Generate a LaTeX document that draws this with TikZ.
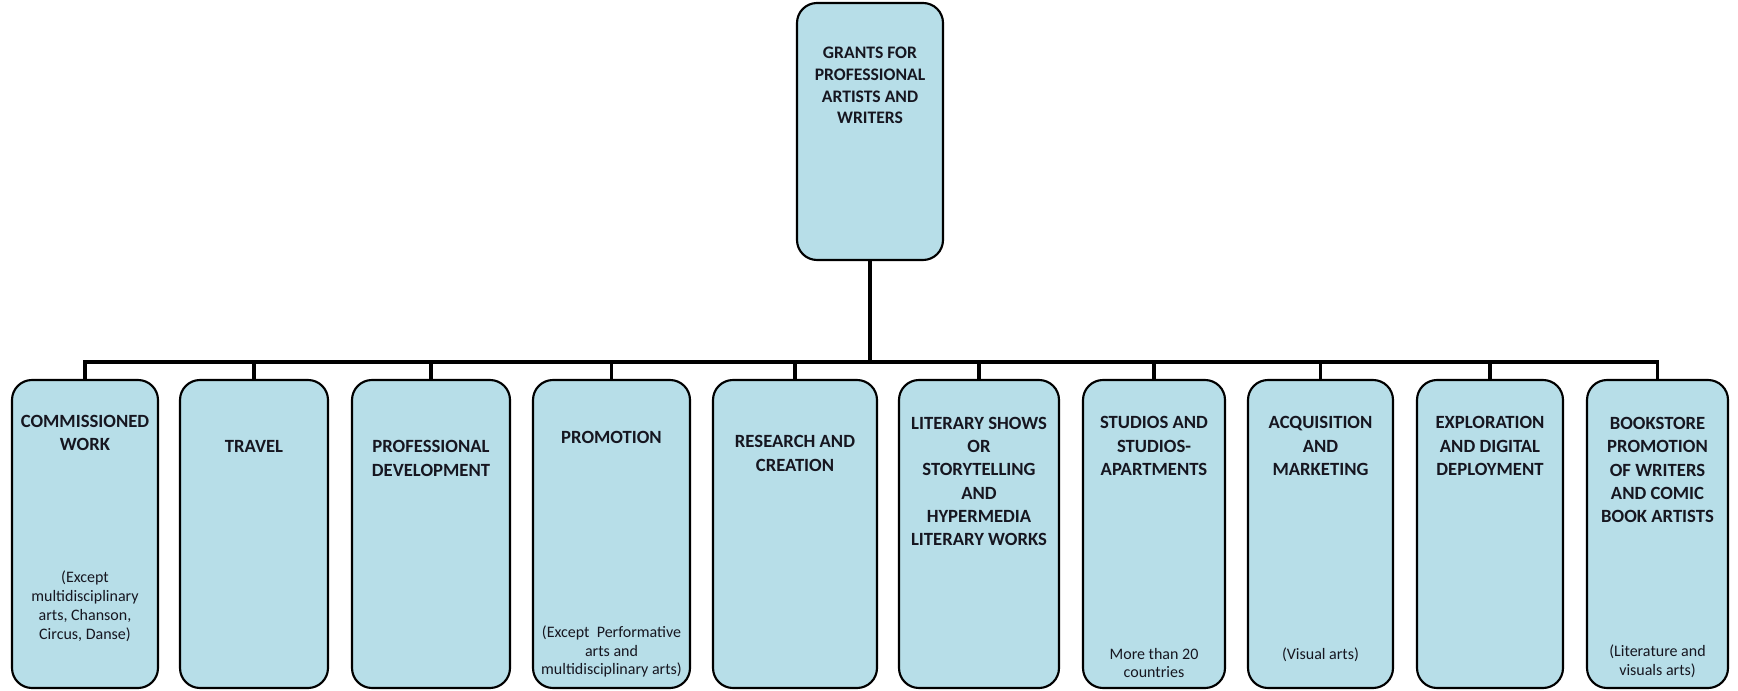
\documentclass[tikz,border=0pt]{standalone}
\usepackage{fontspec}
\setmainfont{Carlito}
\usetikzlibrary{positioning}

\definecolor{boxfill}{RGB}{183,222,232}
\definecolor{ink}{RGB}{22,22,32}

\tikzset{every picture/.style={line width=0.75pt}}
\tikzset{
  grantbox/.style={draw=black, line width=1.6pt, fill=boxfill, rounded corners=15pt, inner sep=0pt, minimum height=231pt},
  headbox/.style={grantbox, minimum width=109.5pt, minimum height=192.75pt},
  ttl/.style={inner sep=0.75pt, align=center, text=ink, font=\bfseries\fontsize{14}{17.4}\selectfont},
  headttl/.style={ttl, font=\bfseries\fontsize{13.2}{16.3}\selectfont},
  note/.style={inner sep=0.75pt, align=center, text=ink, font=\fontsize{12}{14.2}\selectfont},
  conn/.style={draw=black, line width=2.8pt}
}

\begin{document}
\begin{tikzpicture}[x=0.75pt,y=0.75pt,yscale=-1,xscale=1]
    \useasboundingbox (0,0) rectangle (1738,691);

    %Top box
    \node [headbox] (grants) at (870,131.5) {};
    \node [headttl] (grantsttl) at (870,85.5) {GRANTS FOR\\PROFESSIONAL\\ARTISTS AND\\WRITERS};

    %Boxes of the second row
    \node [grantbox, minimum width=109.5pt] (commiss) at (85,534) {};
    \node [grantbox, minimum width=111pt] (travel) at (254,534) {};
    \node [grantbox, minimum width=118.5pt] (profdev) at (431,534) {};
    \node [grantbox, minimum width=117.75pt] (promo) at (611.5,534) {};
    \node [grantbox, minimum width=123pt] (research) at (795,534) {};
    \node [grantbox, minimum width=120pt] (litshows) at (979,534) {};
    \node [grantbox, minimum width=106.5pt] (studios) at (1154,534) {};
    \node [grantbox, minimum width=108.75pt] (acquis) at (1320.5,534) {};
    \node [grantbox, minimum width=109.5pt] (explor) at (1490,534) {};
    \node [grantbox, minimum width=105.75pt] (bookst) at (1657.5,534) {};

    %Connectors
    \coordinate (bus) at (870,362);
    \draw [conn] (grants.south) -- (bus);
    \draw [conn] (commiss.north) |- (bus) -| (bookst.north);
    \foreach \b in {travel,profdev,promo,research,litshows,studios,acquis,explor}
      \draw [conn] (\b.north) -- (\b.north |- bus);

    % Text Node
    \node [ttl] (commissttl) at (85,433) {COMMISSIONED\\WORK};
    \node [note] (commissnote) at (85,606.5) {(Except\\multidisciplinary\\arts, Chanson,\\Circus, Danse)};
    % Text Node
    \node [ttl] (travelttl) at (254,446) {TRAVEL};
    % Text Node
    \node [ttl] (profdevttl) at (431,458.5) {PROFESSIONAL\\DEVELOPMENT};
    % Text Node
    \node [ttl] (promottl) at (611.5,437) {PROMOTION};
    \node [note] (promonote) at (611.5,651.5) {(Except~ Performative\\arts and\\multidisciplinary arts)};
    % Text Node
    \node [ttl] (researchttl) at (795,453.5) {RESEARCH AND\\CREATION};
    % Text Node
    \node [ttl] (litshowsttl) at (979,481.5) {LITERARY SHOWS\\OR\\STORYTELLING\\AND\\HYPERMEDIA\\LITERARY WORKS};
    % Text Node
    \node [ttl] (studiosttl) at (1154,446) {STUDIOS AND\\STUDIOS-\\APARTMENTS};
    \node [note] (studiosnote) at (1154,663) {More than 20\\countries};
    % Text Node
    \node [ttl] (acquisttl) at (1320.5,446) {ACQUISITION\\AND\\MARKETING};
    \node [note] (acquisnote) at (1320.5,655) {(Visual arts)};
    % Text Node
    \node [ttl] (explorttl) at (1490,446) {EXPLORATION\\AND DIGITAL\\DEPLOYMENT};
    % Text Node
    \node [ttl] (bookstttl) at (1657.5,470) {BOOKSTORE\\PROMOTION\\OF WRITERS\\AND COMIC\\BOOK ARTISTS};
    \node [note] (bookstnote) at (1657.5,661.5) {(Literature and\\visuals arts)};

\end{tikzpicture}
\end{document}
